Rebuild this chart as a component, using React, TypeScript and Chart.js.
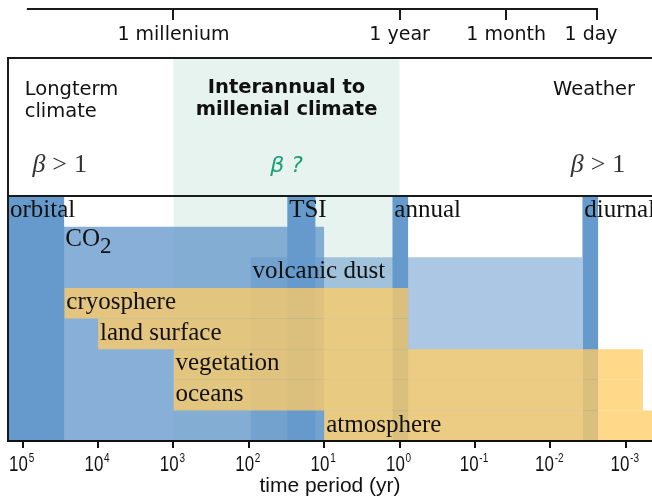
import React, { useEffect, useRef } from 'react';
import { Chart, registerables } from 'chart.js';

Chart.register(...registerables);

// ---------------- data ----------------
const X_LEFT_EDGE = 1.567e5;
const X_RIGHT_EDGE = 4.48e-4;
const ROWS = 8;

const bottomTickValues = [1e5, 1e4, 1e3, 1e2, 1e1, 1e0, 1e-1, 1e-2, 1e-3];
const bottomTickBase = '10';
const bottomTickExponents = ['5', '4', '3', '2', '1', '0', '-1', '-2', '-3'];
const xAxisTitle = 'time period (yr)';

const topTickValues = [1000, 1, 0.0385, 0.0024];
const topTickLabels = ['1 millenium', '1 year', '1 month', '1 day'];
const topAxisFrom = 8.8e4;
const topAxisTo = 0.0024;

const interannualBand = [1000, 1];
const regimeLines = [['Longterm', 'climate'], ['Interannual to', 'millenial climate'], ['Weather']];
const regimeBeta = ['β > 1', 'β ?', 'β > 1'];

const forcingNames = ['orbital', 'CO2', 'TSI', 'volcanic dust', 'annual', 'diurnal'];
const forcingFrom = [1.567e5, 2.9e4, 31, 95, 1.25, 0.00377];
const forcingTo = [2.8e4, 10, 13, 0.00377, 0.766, 0.00231];
const forcingRowFrom = [0, 1, 0, 2, 0, 0];
const forcingRowTo = [8, 8, 8, 8, 8, 8];

const responseNames = ['cryosphere', 'land surface', 'vegetation', 'oceans', 'atmosphere'];
const responseFrom = [2.8e4, 1e4, 1000, 1000, 10];
const responseTo = [0.766, 0.766, 5.9e-4, 5.9e-4, 4.48e-4];
const responseRow = [3, 4, 5, 6, 7];

// ---------------- styles ----------------
const DARK_BLUE = 'rgb(102,153,204)';
const CO2_BLUE = 'rgba(102,153,204,0.78)';
const DUST_BLUE = 'rgba(102,153,204,0.55)';
const ORANGE = 'rgba(255,204,102,0.77)';
const SHADE = '#e7f3ee';
const GREEN_TXT = '#1b9e77';
const INK = '#111';
const SANS = '"DejaVu Sans", sans-serif';
const ARIAL = '"Liberation Sans", Arial, sans-serif';
const SERIF = '"Liberation Serif", serif';

const BOX_TOP = 58;
const TOP_AXIS_Y = 9;

function rect(x0: number, x1: number, r0: number, r1: number, color: string, order: number) {
  return {
    data: [{ x: x0, y: r0 }, { x: x1, y: r0 }],
    fill: { value: r1 },
    backgroundColor: color,
    borderColor: 'rgba(0,0,0,0)',
    borderWidth: 0,
    pointRadius: 0,
    pointHoverRadius: 0,
    tension: 0,
    order,
  };
}

function buildDatasets() {
  const ds: any[] = [];
  ds.push(rect(interannualBand[0], interannualBand[1], 0, ROWS, SHADE, 100));
  forcingNames.forEach((n, i) => {
    let color = DARK_BLUE;
    let order = 50;
    if (n === 'CO2') { color = CO2_BLUE; order = 80; }
    if (n === 'volcanic dust') { color = DUST_BLUE; order = 70; }
    ds.push(rect(forcingFrom[i], forcingTo[i], forcingRowFrom[i], forcingRowTo[i], color, order));
  });
  responseNames.forEach((n, i) => {
    ds.push(rect(responseFrom[i], responseTo[i], responseRow[i], responseRow[i] + 1, ORANGE, 10));
  });
  return ds;
}

const overlay = {
  id: 'overlay',
  beforeDatasetsDraw(chart: any) {
    const { ctx, chartArea, scales } = chart;
    const x = scales.x;
    const a = x.getPixelForValue(interannualBand[0]);
    const b = x.getPixelForValue(interannualBand[1]);
    ctx.save();
    ctx.fillStyle = SHADE;
    ctx.fillRect(a, BOX_TOP, b - a, chartArea.top - BOX_TOP);
    ctx.restore();
  },
  afterDatasetsDraw(chart: any) {
    const { ctx, chartArea, scales } = chart;
    const x = scales.x;
    const y = scales.y;
    ctx.save();

    // bar labels
    ctx.fillStyle = INK;
    ctx.textBaseline = 'alphabetic';
    ctx.textAlign = 'left';
    const drawLabel = (name: string, from: number, row: number) => {
      const px = Math.max(x.getPixelForValue(from), chartArea.left) + 2;
      const py = y.getPixelForValue(row + 0.69);
      if (name === 'CO2') {
        ctx.font = `25px ${SERIF}`;
        ctx.fillText('CO', px, py - 2);
        const w = ctx.measureText('CO').width;
        ctx.font = `23px ${SERIF}`;
        ctx.fillText('2', px + w, py + 5);
      } else {
        ctx.font = `25px ${SERIF}`;
        ctx.fillText(name, px, py);
      }
    };
    forcingNames.forEach((n, i) => drawLabel(n, forcingFrom[i], forcingRowFrom[i]));
    responseNames.forEach((n, i) => drawLabel(n, responseFrom[i], responseRow[i]));

    // frame: box + left border
    ctx.strokeStyle = '#1a1a1a';
    ctx.lineWidth = 2;
    ctx.beginPath();
    ctx.moveTo(chartArea.left, chartArea.bottom);
    ctx.lineTo(chartArea.left, BOX_TOP);
    ctx.lineTo(chartArea.right + 5, BOX_TOP);
    ctx.moveTo(chartArea.left, chartArea.top);
    ctx.lineTo(chartArea.right + 5, chartArea.top);
    ctx.stroke();

    // top axis
    const t0 = x.getPixelForValue(topAxisFrom);
    const t1 = x.getPixelForValue(topAxisTo);
    ctx.beginPath();
    ctx.moveTo(t0, TOP_AXIS_Y);
    ctx.lineTo(t1 + 1, TOP_AXIS_Y);
    topTickValues.forEach((v) => {
      const p = Math.round(x.getPixelForValue(v));
      ctx.moveTo(p, TOP_AXIS_Y);
      ctx.lineTo(p, TOP_AXIS_Y + 11);
    });
    ctx.stroke();
    ctx.font = `19px ${SANS}`;
    ctx.textAlign = 'center';
    topTickLabels.forEach((l, i) => {
      const p = x.getPixelForValue(topTickValues[i]);
      const dx = i === topTickLabels.length - 1 ? -6 : 0;
      ctx.fillText(l, p + dx, 40);
    });

    // regime texts
    const left = x.getPixelForValue(1e5);
    const bandMid = (x.getPixelForValue(interannualBand[0]) + x.getPixelForValue(interannualBand[1])) / 2;
    const dayPx = x.getPixelForValue(topAxisTo);

    ctx.font = `19.5px ${SANS}`;
    ctx.textAlign = 'left';
    ctx.fillText(regimeLines[0][0], left + 2, 95);
    ctx.fillText(regimeLines[0][1], left + 2, 117);
    ctx.font = `bold 19.5px ${SANS}`;
    ctx.textAlign = 'center';
    ctx.fillText(regimeLines[1][0], bandMid, 93);
    ctx.fillText(regimeLines[1][1], bandMid, 115);
    ctx.font = `19.5px ${SANS}`;
    ctx.fillText(regimeLines[2][0], dayPx - 3, 95);

    // beta texts
    const drawMathBeta = (txt: string, cx: number, base: number) => {
      const rest = txt.slice(1).trim().split(' ');
      ctx.fillStyle = '#333';
      ctx.textAlign = 'left';
      const fb = `italic 26px ${SERIF}`;
      const fr = `26px ${SERIF}`;
      ctx.font = fb;
      const wb = ctx.measureText('β').width;
      ctx.font = fr;
      const widths = rest.map((r) => ctx.measureText(r).width);
      const gap = 7;
      const total = wb + widths.reduce((s, w) => s + w + gap, 0);
      let cur = cx - total / 2;
      ctx.font = fb;
      ctx.fillText('β', cur, base);
      cur += wb;
      ctx.font = fr;
      rest.forEach((r, i) => {
        cur += gap;
        ctx.fillText(r, cur, base);
        cur += widths[i];
      });
    };
    drawMathBeta(regimeBeta[0], left + 37, 172);
    drawMathBeta(regimeBeta[2], dayPx + 1, 172);

    ctx.fillStyle = GREEN_TXT;
    ctx.font = `oblique 22px ${SANS}`;
    ctx.textAlign = 'center';
    ctx.fillText(regimeBeta[1], bandMid, 172);

    // bottom tick labels: 10 with superscript exponent, narrow
    ctx.fillStyle = INK;
    const sx = 0.77;
    x.ticks.forEach((_t: any, i: number) => {
      const p = x.getPixelForTick(i);
      const exp = bottomTickExponents[i];
      ctx.save();
      ctx.translate(p - 1, 0);
      ctx.scale(sx, 1);
      ctx.textAlign = 'left';
      ctx.font = `22px ${ARIAL}`;
      const wb = ctx.measureText(bottomTickBase).width;
      ctx.font = `13px ${ARIAL}`;
      const we = ctx.measureText(exp).width;
      const start = -(wb + we + 1) / 2;
      ctx.font = `22px ${ARIAL}`;
      ctx.fillText(bottomTickBase, start, 471);
      ctx.font = `13px ${ARIAL}`;
      ctx.fillText(exp, start + wb + 1, 462);
      ctx.restore();
    });

    ctx.restore();
  },
};

export default function App() {
  const ref = useRef<HTMLCanvasElement | null>(null);
  useEffect(() => {
    document.body.style.margin = '0';
    const canvas = ref.current;
    if (!canvas) return;
    const chart = new Chart(canvas, {
      type: 'line',
      data: { datasets: buildDatasets() },
      options: {
        responsive: false,
        animation: false,
        events: [],
        layout: { padding: { top: 196, left: 8, right: 0, bottom: 0 } },
        plugins: {
          legend: { display: false },
          tooltip: { enabled: false },
          title: { display: false },
        },
        scales: {
          x: {
            type: 'logarithmic',
            reverse: true,
            min: X_RIGHT_EDGE,
            max: X_LEFT_EDGE,
            afterBuildTicks: (s: any) => {
              s.ticks = bottomTickValues.map((v) => ({ value: v }));
            },
            afterFit: (s: any) => {
              s.height = 56;
            },
            ticks: {
              display: false,
              autoSkip: false,
              maxRotation: 0,
            },
            grid: {
              display: true,
              drawOnChartArea: false,
              drawTicks: true,
              tickLength: 7,
              color: INK,
              lineWidth: 2,
            },
            border: { display: true, color: INK, width: 2, z: 1 },
            title: {
              display: true,
              text: xAxisTitle,
              color: INK,
              font: { family: ARIAL, size: 21, lineHeight: 1 },
              padding: 0,
            },
          },
          y: { type: 'linear', min: 0, max: ROWS, reverse: true, display: false },
        },
      } as any,
      plugins: [overlay],
    });
    return () => chart.destroy();
  }, []);
  return <canvas ref={ref} width={652} height={497} style={{ display: 'block' }} />;
}
